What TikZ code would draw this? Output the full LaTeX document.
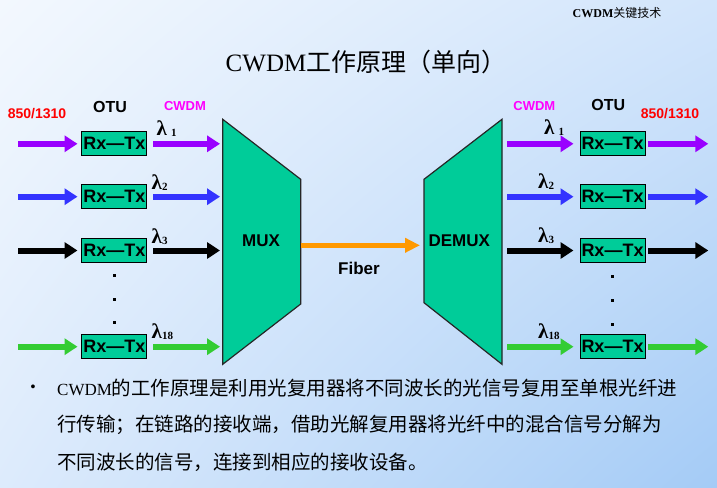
\documentclass[tikz,border=0pt]{standalone}
\usepackage{fontspec}
\setmainfont{Liberation Serif}
\setsansfont{Liberation Sans}
\newfontfamily\cjk{Noto Sans CJK SC}
\newfontfamily\lamf{Liberation Serif}[BoldFont={* Bold}]
\usetikzlibrary{arrows.meta,shadings}
\definecolor{otugreen}{HTML}{00CC99}
\definecolor{sigpurple}{HTML}{9900FF}
\definecolor{sigblue}{HTML}{3333FF}
\definecolor{siggreen}{HTML}{33CC33}
\definecolor{fiberorange}{HTML}{FF9900}
\definecolor{labred}{HTML}{FF0000}
\definecolor{labmagenta}{HTML}{FF00FF}
\definecolor{bgA}{HTML}{F3F8FE}
\definecolor{bgB}{HTML}{D2E5FB}
\definecolor{bgC}{HTML}{DDEBFC}
\definecolor{bgD}{HTML}{A4CBF6}
\tikzset{
  otubox/.style={draw=black, line width=1pt, fill=otugreen, minimum width=65pt, minimum height=24pt, inner sep=0pt, font=\sffamily\bfseries\fontsize{18}{18}\selectfont},
  sig/.style={line width=6pt, -{Triangle[length=13pt,width=16pt]}},
  fiberarr/.style={line width=5pt, fiberorange, -{Triangle[length=15pt,width=14pt]}},
  device/.style={draw=black!85, line width=1.2pt, fill=otugreen},
  devlabel/.style={font=\sffamily\bfseries\fontsize{17}{17}\selectfont, inner sep=0pt},
  toplab/.style={font=\sffamily\bfseries\fontsize{13}{13}\selectfont, inner sep=0pt},
  wllab/.style={font=\sffamily\bfseries\fontsize{14}{14}\selectfont, inner sep=0pt, text=labred},
  otulab/.style={font=\sffamily\bfseries\fontsize{16}{16}\selectfont, inner sep=0pt},
  lam/.style={anchor=west, inner sep=0pt, font=\lamf\bfseries\fontsize{21}{21}\selectfont},
  dotmark/.style={fill=black, rectangle, minimum size=3pt, inner sep=0pt},
  bodytext/.style={anchor=west, inner sep=0pt, font=\fontsize{19.5}{19.5}\selectfont},
}
\newcommand{\lsub}[1]{\raisebox{-1.5pt}{\fontsize{11}{11}\selectfont #1}}
\begin{document}
\begin{tikzpicture}[x=1pt,y=-1pt]
\useasboundingbox (0,0) rectangle (717,487);
\shade[upper left=bgA, upper right=bgB, lower left=bgC, lower right=bgD] (0,0) rectangle (717,487);

% titles
\node[inner sep=0pt, font=\fontsize{12}{12}\selectfont\bfseries] (corner) at (617,13) {CWDM{\cjk\mdseries 关键技术}};
\node[inner sep=0pt, font=\fontsize{25}{25}\selectfont] (title) at (366,62) {CWDM{\cjk 工作原理（单向）}};

% header labels
\node[wllab] (wlL) at (37,114) {850/1310};
\node[otulab] (otuLh) at (110,106.5) {OTU};
\node[toplab, text=labmagenta] (cwdmL) at (185,106) {CWDM};
\node[toplab, text=labmagenta] (cwdmR) at (534.3,106) {CWDM};
\node[otulab] (otuRh) at (608.3,105) {OTU};
\node[wllab] (wlR) at (670,114) {850/1310};

% MUX / DEMUX
\draw[device] (222.7,119.3) -- (300.7,179.3) -- (300.7,304) -- (222.7,364.3) -- cycle;
\draw[device] (424,179.3) -- (502,119.3) -- (502,364.3) -- (424,302.7) -- cycle;
\node[devlabel] (mux) at (261,241) {MUX};
\node[devlabel] (demux) at (459.3,241) {DEMUX};
\coordinate (fibS) at (300.7,245.3);
\coordinate (fibE) at (420,245.3);
\draw[fiberarr] (fibS) -- (fibE);
\node[devlabel] (fiber) at (359,268) {Fiber};

% OTU boxes
\foreach \i/\y in {1/143.8, 2/196.7, 3/250.5, 4/346.7} {
  \node[otubox] (otuL\i) at (114.3,\y) {Rx—Tx};
  \node[otubox] (otuR\i) at (612.5,\y) {Rx—Tx};
  \coordinate (inL\i) at (18,\y);
  \coordinate (muxin\i) at (220,\y);
  \coordinate (dmout\i) at (507.3,\y);
  \coordinate (outR\i) at (708.3,\y);
}
\foreach \i/\c in {1/sigpurple, 2/sigblue, 3/black, 4/siggreen} {
  \draw[sig, \c, shorten >=3.8pt] (inL\i) -- (otuL\i);
  \draw[sig, \c, shorten <=6pt] (otuL\i) -- (muxin\i);
  \draw[sig, \c, shorten >=6pt] (dmout\i) -- (otuR\i);
  \draw[sig, \c, shorten <=2.6pt] (otuR\i) -- (outR\i);
}

% lambda labels
\node[lam] (lamL1) at (156.5,128.5) {λ\hspace{4pt}\lsub{1}};
\node[lam] (lamL2) at (151.5,182.5) {λ\lsub{2}};
\node[lam] (lamL3) at (151.5,236.5) {λ\lsub{3}};
\node[lam] (lamL4) at (151.5,331.5) {λ\lsub{18}};
\node[lam] (lamR1) at (544,127.5) {λ\hspace{4pt}\lsub{1}};
\node[lam] (lamR2) at (538,181.5) {λ\lsub{2}};
\node[lam] (lamR3) at (538,235.5) {λ\lsub{3}};
\node[lam] (lamR4) at (538,331.5) {λ\lsub{18}};

% dots
\node[dotmark] (dL1) at (114,275) {};
\node[dotmark] (dL2) at (114,299.3) {};
\node[dotmark] (dL3) at (114,322.7) {};
\node[dotmark] (dR1) at (612.7,276) {};
\node[dotmark] (dR2) at (612.7,300) {};
\node[dotmark] (dR3) at (612.7,324) {};

% bullet text
\node[inner sep=0pt, font=\sffamily\fontsize{14}{14}\selectfont] (bullet) at (33,388) {•};
\node[bodytext] (line1) at (57,388) {{\fontsize{17}{17}\selectfont CWDM}{\cjk 的工作原理是利用光复用器将不同波长的光信号复用至单根光纤进}};
\node[bodytext] (line2) at (57,425) {{\cjk 行传输；在链路的接收端，借助光解复用器将光纤中的混合信号分解为}};
\node[bodytext] (line3) at (57,462) {{\cjk 不同波长的信号，连接到相应的接收设备。}};
\end{tikzpicture}
\end{document}
